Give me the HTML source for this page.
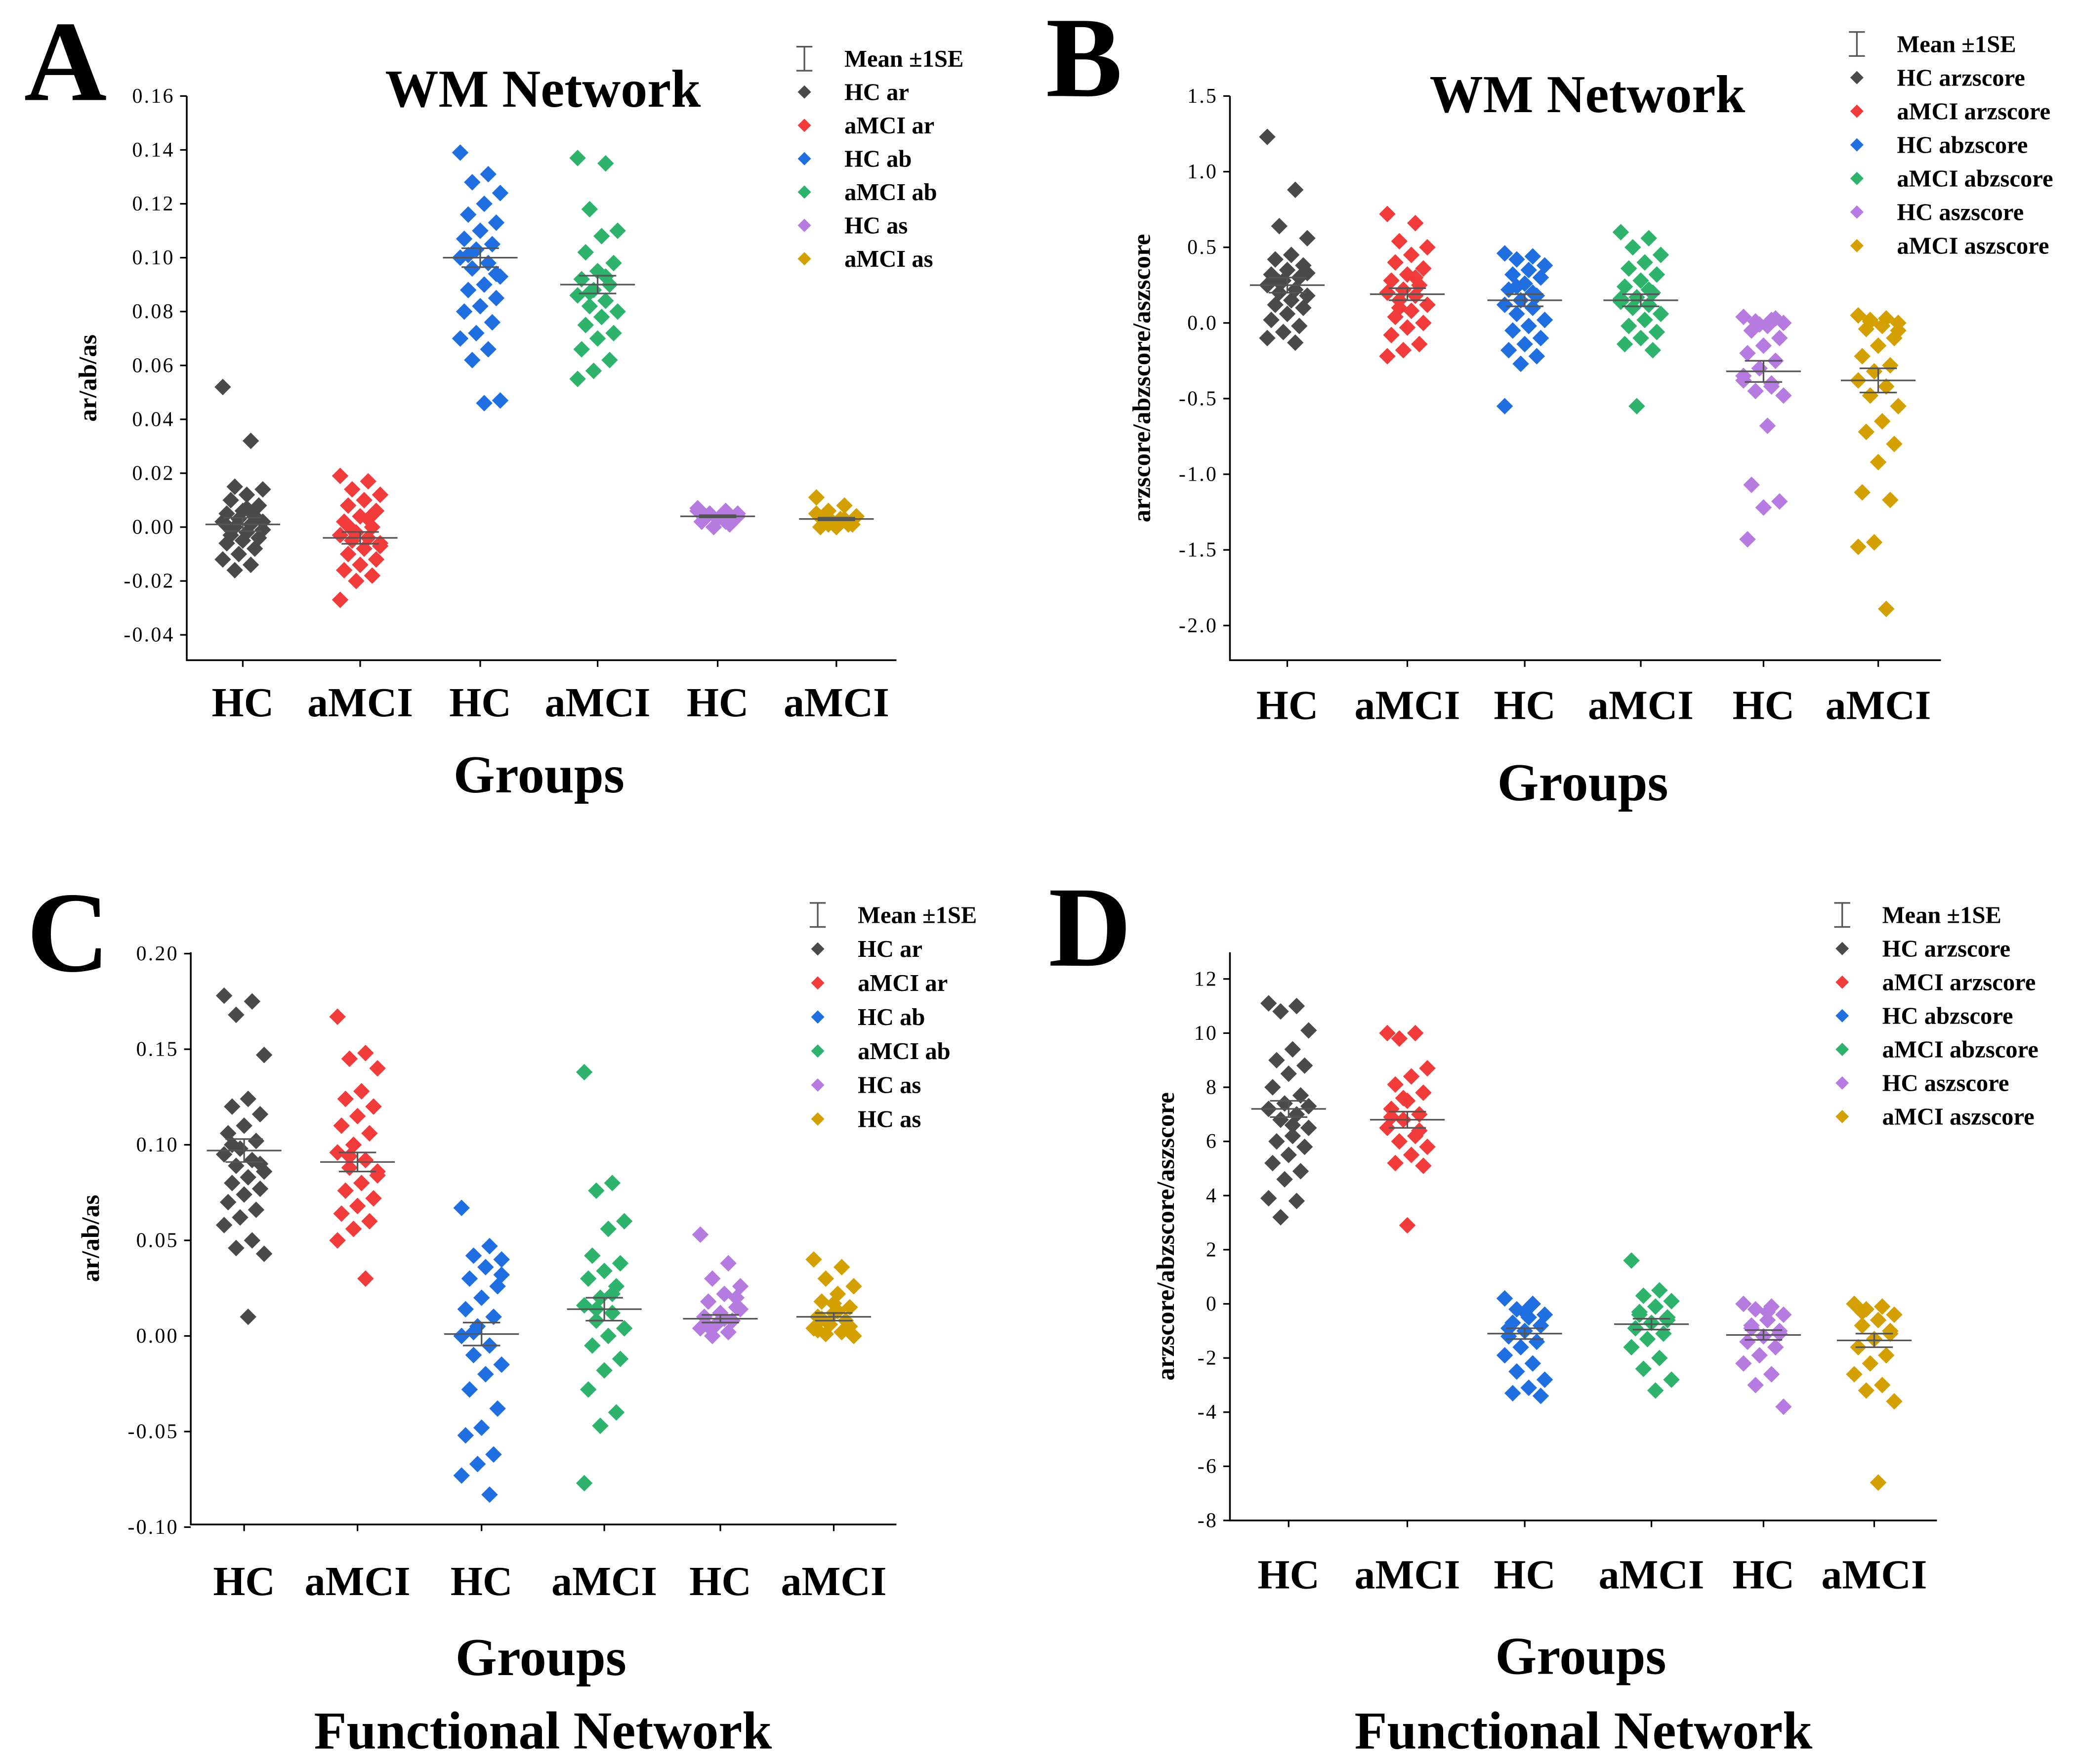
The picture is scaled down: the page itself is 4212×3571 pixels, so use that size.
<!DOCTYPE html>
<html><head><meta charset="utf-8"><style>
html,body{margin:0;padding:0;background:#fff;}
svg{display:block;}
text{font-family:"Liberation Serif",serif;}
</style></head><body>
<svg id="fig" xmlns="http://www.w3.org/2000/svg" width="4212" height="3571" viewBox="0 0 1560 1322.6">
<rect width="1560" height="1322.6" fill="#fff"/>
</svg>
<script>
const colors = ["#4a4a4a","#f23c3c","#1f6fe0","#2db36b","#b57be0","#d4a000"];
const categoriesX = ["HC","aMCI","HC","aMCI","HC","aMCI"];

// Panel A data
const aLegend = ["HC ar","aMCI ar","HC ab","aMCI ab","HC as","aMCI as"];
const aTicks = [0.16,0.14,0.12,0.10,0.08,0.06,0.04,0.02,0.00,-0.02,-0.04];
const aTickLabels = ["0.16","0.14","0.12","0.10","0.08","0.06","0.04","0.02","0.00","-0.02","-0.04"];
const aMeans = [0.001,-0.004,0.100,0.090,0.004,0.003];
const aSE = [0.0025,0.0022,0.0035,0.0033,0.0004,0.0005];
const aG1 = [0.052,0.032,0.015,0.014,0.012,0.010,0.008,0.006,0.005,0.004,0.003,0.002,0.001,0.000,-0.001,-0.002,-0.003,-0.004,-0.005,-0.006,-0.008,-0.010,-0.012,-0.014,-0.016,0.002,0.007,-0.001];
const aG2 = [0.019,0.017,0.014,0.012,0.010,0.008,0.006,0.004,0.002,0.000,-0.002,-0.003,-0.004,-0.005,-0.006,-0.008,-0.010,-0.012,-0.014,-0.016,-0.018,-0.020,-0.027,0.003,-0.001,-0.007];
const aG3 = [0.139,0.131,0.128,0.124,0.120,0.116,0.113,0.110,0.107,0.105,0.103,0.100,0.098,0.096,0.093,0.090,0.088,0.085,0.082,0.080,0.076,0.072,0.070,0.066,0.062,0.047,0.046,0.101,0.094];
const aG4 = [0.137,0.135,0.118,0.110,0.108,0.102,0.098,0.095,0.092,0.090,0.088,0.086,0.084,0.082,0.080,0.078,0.075,0.072,0.070,0.066,0.062,0.058,0.055,0.093,0.087];
const aG5 = [0.007,0.006,0.005,0.005,0.004,0.004,0.003,0.003,0.002,0.001,0.000,0.006,0.002,0.005,0.004];
const aG6 = [0.011,0.008,0.006,0.004,0.003,0.002,0.001,0.000,0.000,0.001,0.002,0.005,0.003,0.001];

// Panel B data
const bLegend = ["HC arzscore","aMCI arzscore","HC abzscore","aMCI abzscore","HC aszscore","aMCI aszscore"];
const bTicks = [1.5,1.0,0.5,0.0,-0.5,-1.0,-1.5,-2.0];
const bTickLabels = ["1.5","1.0","0.5","0.0","-0.5","-1.0","-1.5","-2.0"];
const bMeans = [0.25,0.19,0.15,0.15,-0.32,-0.38];
const bSE = [0.05,0.04,0.04,0.04,0.07,0.08];
const bG1 = [1.23,0.88,0.64,0.56,0.45,0.42,0.38,0.35,0.32,0.30,0.28,0.25,0.22,0.20,0.18,0.15,0.12,0.10,0.06,0.02,-0.02,-0.06,-0.10,-0.13,0.27,0.33];
const bG2 = [0.72,0.66,0.54,0.50,0.45,0.40,0.36,0.32,0.28,0.25,0.22,0.20,0.18,0.15,0.12,0.08,0.04,0.00,-0.03,-0.08,-0.14,-0.18,-0.22,0.30,0.10];
const bG3 = [0.46,0.44,0.42,0.38,0.35,0.32,0.30,0.26,0.22,0.18,0.15,0.12,0.10,0.06,0.02,-0.02,-0.05,-0.10,-0.14,-0.18,-0.22,-0.27,-0.55,0.20,0.24];
const bG4 = [0.60,0.56,0.50,0.45,0.40,0.36,0.32,0.28,0.24,0.20,0.17,0.14,0.12,0.10,0.06,0.02,-0.02,-0.06,-0.10,-0.14,-0.18,-0.55,0.16,0.22];
const bG5 = [0.04,0.02,0.01,0.00,-0.02,-0.05,-0.10,-0.15,-0.20,-0.25,-0.30,-0.35,-0.40,-0.45,-0.48,-0.68,-1.07,-1.18,-1.22,-1.43,0.03,-0.01,-0.38,-0.42];
const bG6 = [0.05,0.03,0.02,0.00,-0.02,-0.04,-0.10,-0.15,-0.22,-0.28,-0.32,-0.38,-0.42,-0.48,-0.55,-0.65,-0.72,-0.80,-0.92,-1.12,-1.17,-1.45,-1.48,-1.89,0.01,-0.05];

// Panel C data
const cLegend = ["HC ar","aMCI ar","HC ab","aMCI ab","HC as","HC as"];
const cTicks = [0.20,0.15,0.10,0.05,0.00,-0.05,-0.10];
const cTickLabels = ["0.20","0.15","0.10","0.05","0.00","-0.05","-0.10"];
const cMeans = [0.097,0.091,0.001,0.014,0.009,0.010];
const cSE = [0.006,0.005,0.006,0.006,0.002,0.002];
const cG1 = [0.178,0.175,0.168,0.147,0.124,0.120,0.116,0.110,0.106,0.102,0.098,0.095,0.092,0.089,0.086,0.083,0.080,0.077,0.074,0.070,0.066,0.062,0.058,0.050,0.046,0.043,0.010,0.100,0.090];
const cG2 = [0.167,0.148,0.145,0.140,0.128,0.124,0.120,0.115,0.110,0.106,0.100,0.096,0.092,0.088,0.084,0.080,0.076,0.072,0.068,0.064,0.060,0.056,0.050,0.030,0.094,0.086];
const cG3 = [0.067,0.047,0.042,0.040,0.036,0.030,0.026,0.020,0.014,0.010,0.005,0.000,-0.005,-0.010,-0.015,-0.020,-0.028,-0.038,-0.048,-0.052,-0.062,-0.067,-0.073,-0.083,0.002,0.032];
const cG4 = [0.138,0.080,0.076,0.060,0.056,0.042,0.038,0.034,0.030,0.026,0.020,0.016,0.012,0.008,0.004,0.000,-0.005,-0.012,-0.018,-0.028,-0.040,-0.047,-0.077,0.022,0.014];
const cG5 = [0.053,0.038,0.030,0.026,0.022,0.018,0.015,0.012,0.010,0.008,0.006,0.004,0.002,0.000,0.014,0.009,0.005,0.020];
const cG6 = [0.040,0.036,0.030,0.026,0.022,0.018,0.015,0.012,0.010,0.008,0.006,0.004,0.002,0.001,0.000,0.013,0.009,0.005,0.017,0.003];

// Panel D data
const dLegend = ["HC arzscore","aMCI arzscore","HC abzscore","aMCI abzscore","HC aszscore","aMCI aszscore"];
const dTicks = [12,10,8,6,4,2,0,-2,-4,-6,-8];
const dTickLabels = ["12","10","8","6","4","2","0","-2","-4","-6","-8"];
const dMeans = [7.2,6.8,-1.1,-0.75,-1.15,-1.35];
const dSE = [0.3,0.3,0.2,0.2,0.18,0.25];
const dG1 = [11.1,11.0,10.8,10.1,9.4,9.0,8.8,8.5,8.0,7.7,7.4,7.2,7.0,6.8,6.5,6.2,6.0,5.8,5.5,5.2,4.9,4.6,3.9,3.8,3.2,7.3,6.6];
const dG2 = [10.0,10.0,9.8,8.7,8.4,8.1,7.8,7.5,7.2,7.0,6.8,6.5,6.2,6.0,5.8,5.5,5.2,5.1,2.9,6.9,6.4,7.6];
const dG3 = [0.2,0.0,-0.2,-0.4,-0.5,-0.7,-0.8,-1.0,-1.2,-1.4,-1.6,-1.9,-2.2,-2.5,-2.8,-3.1,-3.3,-3.4,-0.3,-0.9];
const dG4 = [1.6,0.5,0.3,0.1,-0.1,-0.3,-0.5,-0.7,-0.9,-1.1,-1.3,-1.6,-2.0,-2.4,-2.8,-3.2,-0.4,-0.6];
const dG5 = [0.0,-0.1,-0.2,-0.4,-0.6,-0.8,-1.0,-1.2,-1.4,-1.6,-1.9,-2.2,-2.6,-3.0,-3.8,-0.3,-0.9,-1.1];
const dG6 = [0.0,-0.1,-0.2,-0.4,-0.6,-0.8,-1.0,-1.3,-1.6,-1.9,-2.2,-2.6,-3.0,-3.2,-3.6,-6.6,-0.3,-1.1];

const NS = "http://www.w3.org/2000/svg";
const svg = document.getElementById("fig");
function mk(tag, parent, attrs){
  const e = document.createElementNS(NS, tag);
  for (const k in attrs) e.setAttribute(k, attrs[k]);
  parent.appendChild(e);
  return e;
}
function txt(parent, x, y, s, size, anchor, weight, fam){
  const t = mk("text", parent, {x:x, y:y, "font-size":size, "text-anchor":anchor||"start", "font-weight":weight||"normal", fill:"#000"});
  if (fam) t.setAttribute("font-family", fam);
  t.textContent = s;
  return t;
}

const panels = [
  {id:"a", letter:"A", lx:18, ly:75, left:140, right:672, top:72, bottom:495, vTop:0.16, vBot:-0.04, yTop:72, yBot:476,
   cx:[182,270,360,448,538,627], ticks:aTicks, tickLabels:aTickLabels, means:aMeans, se:aSE, groups:[aG1,aG2,aG3,aG4,aG5,aG6],
   legend:aLegend, legX:603, legY:44, legDy:25, title:"WM Network", titleX:407, titleY:80, ylab:"ar/ab/as", ylabX:72,
   xlabY:537, groupsY:594, bottomTitle:null, jit:3},
  {id:"b", letter:"B", lx:784, ly:72, left:922, right:1455, top:72, bottom:495, vTop:1.5, vBot:-2.0, yTop:72, yBot:469,
   cx:[965,1055,1143,1230,1322,1408], ticks:bTicks, tickLabels:bTickLabels, means:bMeans, se:bSE, groups:[bG1,bG2,bG3,bG4,bG5,bG6],
   legend:bLegend, legX:1392, legY:33, legDy:25.2, title:"WM Network", titleX:1190, titleY:84, ylab:"arzscore/abzscore/aszscore", ylabX:862,
   xlabY:539, groupsY:600, bottomTitle:null, jit:3},
  {id:"c", letter:"C", lx:20, ly:728, left:143, right:672, top:714, bottom:1143, vTop:0.20, vBot:-0.10, yTop:715, yBot:1145,
   cx:[183,268,361,453,540,625], ticks:cTicks, tickLabels:cTickLabels, means:cMeans, se:cSE, groups:[cG1,cG2,cG3,cG4,cG5,cG6],
   legend:cLegend, legX:613, legY:686, legDy:25.5, title:null, ylab:"ar/ab/as", ylabX:74,
   xlabY:1196, groupsY:1256, bottomTitle:"Functional Network", btX:407, btY:1311, jit:3},
  {id:"d", letter:"D", lx:786, ly:724, left:922, right:1452, top:714, bottom:1140, vTop:12, vBot:-8, yTop:734, yBot:1140,
   cx:[966,1055,1143,1238,1322,1405], ticks:dTicks, tickLabels:dTickLabels, means:dMeans, se:dSE, groups:[dG1,dG2,dG3,dG4,dG5,dG6],
   legend:dLegend, legX:1381, legY:686, legDy:25.2, title:null, ylab:"arzscore/abzscore/aszscore", ylabX:880,
   xlabY:1191, groupsY:1255, bottomTitle:"Functional Network", btX:1187, btY:1311, jit:3}
];

panels.forEach(p => {
  const g = mk("g", svg, {});
  
  
  const yS = v => p.yTop + (p.vTop - v) * (p.yBot - p.yTop) / (p.vTop - p.vBot);

  const letter = txt(g, p.lx, p.ly, p.letter, 86, "start", "bold");
  
  

  if (p.title){
    const t = txt(g, p.titleX, p.titleY, p.title, 40, "middle", "bold");
    
    
  }

  const ax = mk("path", g, {d:`M${p.left},${p.top} L${p.left},${p.bottom} L${p.right},${p.bottom}`, stroke:"#000", "stroke-width":1.3, fill:"none"});
  
  

  p.ticks.forEach((v, i) => {
    const y = yS(v);
    const tk = mk("line", g, {x1:p.left-5, x2:p.left, y1:y, y2:y, stroke:"#000", "stroke-width":1.2});
    
    
    const lb = txt(g, p.left-9, y+5, p.tickLabels[i], 15.5, "end", "normal", "Liberation Mono, monospace");
    lb.setAttribute("letter-spacing", "1.2");
    
    
  });

  const yl = txt(g, 0, 0, p.ylab, 19, "middle", "bold");
  yl.setAttribute("transform", `translate(${p.ylabX},${(p.top+p.bottom)/2}) rotate(-90)`);
  
  

  p.cx.forEach((x, i) => {
    const tk = mk("line", g, {x1:x, x2:x, y1:p.bottom, y2:p.bottom+5, stroke:"#000", "stroke-width":1.2});
    
    
    const lb = txt(g, x, p.xlabY, categoriesX[i], 31, "middle", "bold");
    
    
  });

  const gt = txt(g, (p.left+p.right)/2 - 2, p.groupsY, "Groups", 40, "middle", "bold");
  
  
  if (p.bottomTitle){
    const bt = txt(g, p.btX, p.btY, p.bottomTitle, 40, "middle", "bold");
    
    
  }

  p.groups.forEach((vals, gi) => {
    const sg = mk("g", g, {fill:colors[gi]});
    
    
    vals.forEach((v, i) => {
      const x = p.cx[gi] + (((i*7) % 11) - 5) * p.jit;
      const y = yS(v);
      const r = 6.2;
      const d = mk("path", sg, {d:`M${x},${y-r} L${x+r},${y} L${x},${y+r} L${x-r},${y} Z`});
      
      
    });
  });

  p.means.forEach((m, gi) => {
    const x = p.cx[gi];
    const ym = yS(m), y1 = yS(m + p.se[gi]), y2 = yS(m - p.se[gi]);
    const mg = mk("g", g, {stroke:"#555", "stroke-width":1.2});
    
    
    mk("line", mg, {x1:x-28, x2:x+28, y1:ym, y2:ym});
    mk("line", mg, {x1:x, x2:x, y1:y1, y2:y2});
    mk("line", mg, {x1:x-14, x2:x+14, y1:y1, y2:y1});
    mk("line", mg, {x1:x-14, x2:x+14, y1:y2, y2:y2});
  });

  const lg = mk("g", g, {});
  
  
  const ly0 = p.legY;
  const me = mk("g", lg, {stroke:"#555", "stroke-width":1.2});
  
  
  mk("line", me, {x1:p.legX, x2:p.legX, y1:ly0-9, y2:ly0+9});
  mk("line", me, {x1:p.legX-6, x2:p.legX+6, y1:ly0-9, y2:ly0-9});
  mk("line", me, {x1:p.legX-6, x2:p.legX+6, y1:ly0+9, y2:ly0+9});
  const mt = txt(lg, p.legX+30, ly0+6, "Mean ±1SE", 18, "start", "bold");
  
  
  p.legend.forEach((s, i) => {
    const y = ly0 + p.legDy*(i+1);
    const r = 5;
    const d = mk("path", lg, {d:`M${p.legX},${y-r} L${p.legX+r},${y} L${p.legX},${y+r} L${p.legX-r},${y} Z`, fill:colors[i]});
    
    
    const t = txt(lg, p.legX+30, y+6, s, 18, "start", "bold");
    
    
  });
});
</script>
</body></html>
